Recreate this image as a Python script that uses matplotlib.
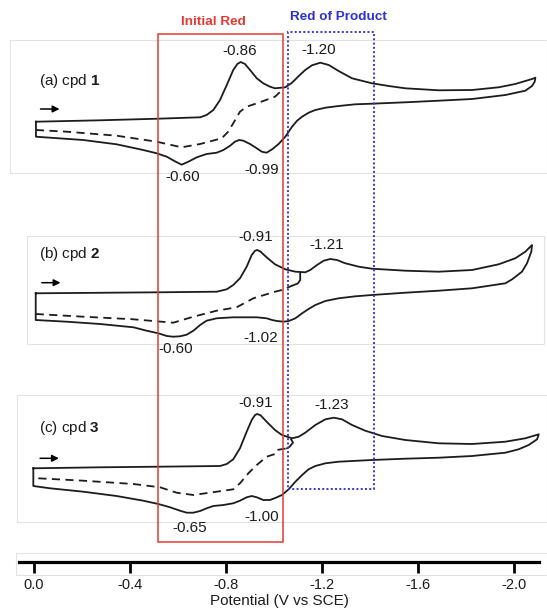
import matplotlib.pyplot as plt
from matplotlib.patches import Rectangle

plt.rcParams['font.family'] = ['Liberation Sans', 'DejaVu Sans']
plt.rcParams['mathtext.fontset'] = 'custom'
plt.rcParams['mathtext.rm'] = 'Liberation Sans'
plt.rcParams['mathtext.bf'] = 'Liberation Sans:bold'

# cyclic voltammograms: potential (V vs SCE), current (arb. units, cathodic up)
# forward scan (towards negative potential), then reverse scan back to the start
a_fwd_E = [-0.009, -0.276, -0.518, -0.693, -0.720, -0.748, -0.776, -0.804, -0.831, -0.848, -0.862,
           -0.880, -0.901, -0.929, -0.956, -0.984, -1.005, -1.048, -1.076, -1.104, -1.131, -1.159,
           -1.194, -1.229, -1.270, -1.326, -1.409, -1.479, -1.548, -1.687, -1.826, -1.937, -2.006,
           -2.048, -2.076, -2.090]
a_fwd_i = [0, 1.4, 3.0, 4.4, 6.7, 11.7, 21.7, 36.7, 51.7, 57.7, 59.7,
           57.7, 51.7, 43.4, 38.4, 35, 33.4, 34.4, 39, 45.7, 51.7, 56.4,
           59, 56.7, 50.7, 43.4, 38.4, 35.7, 33.4, 31.4, 31.7, 34.4, 37.7,
           40.7, 42.7, 44]
a_rev_E = [-2.087, -2.076, -2.048, -1.965, -1.826, -1.687, -1.548, -1.409, -1.340, -1.270, -1.215,
           -1.173, -1.145, -1.118, -1.097, -1.076, -1.048, -1.020, -0.993, -0.970, -0.950, -0.929,
           -0.901, -0.873, -0.856, -0.838, -0.818, -0.790, -0.762, -0.720, -0.679, -0.644, -0.616,
           -0.588, -0.554, -0.512, -0.456, -0.345, -0.206, -0.068, -0.009, -0.009]
a_rev_i = [40, 35.7, 31, 26.7, 22.7, 21, 19.4, 18, 17.4, 15.7, 14,
           11.7, 9, 5, 1, -5, -15, -22.3, -27.6, -31, -30, -26.6,
           -22.3, -19, -18.3, -20, -24, -28.3, -31, -32.3, -35.6, -40, -43,
           -39.6, -35, -31.6, -28.3, -22.6, -18.3, -16, -15, 0]
a_dash_E = [-0.009, -0.137, -0.345, -0.512, -0.616, -0.693, -0.783, -0.810, -0.831, -0.859, -0.887,
            -0.929, -0.956, -1.005, -1.026, -1.030]
a_dash_i = [-8.3, -10, -14, -20, -25.6, -22.3, -16.6, -10, -1.6, 10, 15,
            18.4, 20.7, 25, 29.7, 33.2]

b_fwd_E = [-0.008, -0.519, -0.762, -0.804, -0.831, -0.859, -0.887, -0.908, -0.922, -0.931, -0.945,
           -0.970, -1.005, -1.048, -1.090, -1.131, -1.152, -1.180, -1.208, -1.235, -1.263, -1.298,
           -1.354, -1.409, -1.548, -1.687, -1.826, -1.937, -2.006, -2.048, -2.076]
b_fwd_i = [0, 1, 1.6, 4, 8.3, 15, 26.6, 38.3, 42.6, 43.3, 41.6,
           36, 29, 24, 21.6, 21, 23.3, 28.3, 32.6, 34.3, 33.3, 30,
           26.6, 24.6, 22.6, 21.6, 23.3, 29, 35, 41.6, 48.3]
b_rev_E = [-2.073, -2.055, -2.034, -1.993, -1.965, -1.826, -1.687, -1.548, -1.409, -1.340, -1.270,
           -1.215, -1.173, -1.145, -1.118, -1.090, -1.062, -1.041, -1.013, -0.993, -0.970, -0.929,
           -0.831, -0.762, -0.720, -0.693, -0.665, -0.637, -0.609, -0.581, -0.554, -0.519, -0.470,
           -0.415, -0.276, -0.137, -0.008, -0.008]
b_rev_i = [41.6, 30, 21.6, 14, 10, 5, 2.6, 0.6, -1.7, -3, -5,
           -7.7, -11.7, -15.7, -20, -25, -27.7, -28.4, -27.7, -26.7, -25, -24,
           -24, -25, -27.4, -31.7, -37.4, -41.4, -43, -43.4, -42.7, -40, -37.4,
           -34, -30.7, -28.4, -26.7, 0]
b_dash_E = [-0.008, -0.206, -0.415, -0.581, -0.665, -0.762, -0.845, -0.915, -1.005, -1.034, -1.076]
b_dash_i = [-20.7, -23.4, -26, -29.4, -23.4, -17.4, -14, -5, 1.6, 3.3, 7.6]
b_hook_E = [-1.076, -1.100, -1.110, -1.110]
b_hook_i = [7.6, 9.8, 13.3, 20]

c_fwd_E = [0.002, -0.276, -0.519, -0.776, -0.804, -0.831, -0.859, -0.887, -0.908, -0.922, -0.931,
           -0.945, -0.970, -1.005, -1.034, -1.076, -1.104, -1.131, -1.173, -1.215, -1.250, -1.284,
           -1.326, -1.381, -1.451, -1.548, -1.687, -1.826, -1.965, -2.048, -2.104]
c_fwd_i = [0, 1, 1.6, 2.3, 4.3, 9, 20, 36.6, 48.3, 53.3, 54.3,
           53, 46.6, 38.3, 33.3, 30, 31.6, 35.6, 43.3, 49, 50.6, 49,
           43.3, 37.6, 32.3, 28.3, 25, 24.3, 26.6, 30, 34]
c_rev_E = [-2.097, -2.062, -2.020, -1.965, -1.826, -1.687, -1.548, -1.409, -1.270, -1.215, -1.173,
           -1.145, -1.118, -1.090, -1.062, -1.034, -1.006, -0.984, -0.956, -0.929, -0.908, -0.887,
           -0.859, -0.831, -0.790, -0.748, -0.720, -0.693, -0.665, -0.637, -0.609, -0.568, -0.519,
           -0.456, -0.345, -0.206, -0.068, 0.002, 0.002]
c_rev_i = [29, 23.3, 19, 15.6, 12.3, 10.6, 9.6, 8.3, 6.6, 5, 2.3,
           -1, -6.7, -13.4, -21, -26.7, -29.7, -31.7, -31.7, -29, -27.7, -29,
           -32.4, -35, -36.7, -37.7, -40, -42.7, -44.4, -44.4, -42.4, -39, -35.7,
           -32.4, -27.7, -23.4, -20, -17.7, 0]
c_dash_E = [-0.019, -0.206, -0.415, -0.526, -0.595, -0.665, -0.762, -0.831, -0.859, -0.894, -0.929,
            -0.970, -1.005, -1.013, -1.055]
c_dash_i = [-10, -12.4, -15.7, -19, -24.4, -26.7, -23.4, -21, -15, -5, 3.3,
            11.6, 14.3, 18.3, 20]
c_hook_E = [-1.055, -1.066, -1.080, -1.072]
c_hook_i = [20, 21.6, 25.6, 29]

panel_names = ['(a) cpd $\\mathbf{1}$', '(b) cpd $\\mathbf{2}$', '(c) cpd $\\mathbf{3}$']
peak_labels = [['-0.86', '-1.20', '-0.60', '-0.99'],
               ['-0.91', '-1.21', '-0.60', '-1.02'],
               ['-0.91', '-1.23', '-0.65', '-1.00']]
tick_vals = [0.0, -0.4, -0.8, -1.2, -1.6, -2.0]
tick_labels = ['0.0', '-0.4', '-0.8', '-1.2', '-1.6', '-2.0']

# layout (pixels of the 547x615 picture)
W, H = 547, 615
X0, PX_PER_V = 33.8, 240.0
offsets = [121.7, 293.3, 468.3]
name_pos = [(39.3, 80.7), (39.3, 254.3), (39.3, 427.7)]
arrow_pos = [(37.7, 62.3, 109), (39, 63.3, 282.7), (37.3, 61.7, 458.3)]
peak_pos = [[(240, 50.7), (318.7, 50), (182.7, 176.7), (262, 170.5)],
            [(255.7, 237.3), (327, 245), (176, 349.3), (261, 338.3)],
            [(255.7, 402.7), (332, 405), (190, 528.3), (262, 516.7)]]
frames = [(10, 40, 547, 173.3), (26.7, 236, 543.7, 344), (17.3, 395, 547, 521.7), (15.7, 553.3, 547, 575)]
ink = '#1c1c1c'


def fx(x):
    return x / W


def fy(y):
    return 1 - y / H


def E_of(x):
    return (X0 - x) / PX_PER_V


fig = plt.figure(figsize=(W / 100, H / 100), dpi=100)

# faint frames of the pasted panels
for x1, y1, x2, y2 in frames:
    fig.add_artist(Rectangle((fx(x1), fy(y2)), fx(x2) - fx(x1), fy(y1) - fy(y2),
                             transform=fig.transFigure, fill=False, ec='#e2e2e2', lw=0.8))

ax = fig.add_axes([0, 0, 1, 1])
ax.set_xlim(E_of(0), E_of(W))
ax.set_ylim(H, 0)
ax.axis('off')

curves = [(a_fwd_E + a_rev_E, a_fwd_i + a_rev_i, a_dash_E, a_dash_i, None, None),
          (b_fwd_E + b_rev_E, b_fwd_i + b_rev_i, b_dash_E, b_dash_i, b_hook_E, b_hook_i),
          (c_fwd_E + c_rev_E, c_fwd_i + c_rev_i, c_dash_E, c_dash_i, c_hook_E, c_hook_i)]

for k, (E, i, dE, di, hE, hi) in enumerate(curves):
    off = offsets[k]
    ax.plot(E, [off - v for v in i], color=ink, lw=1.3, solid_joinstyle='round')
    ax.plot(dE, [off - v for v in di], color=ink, lw=1.3, linestyle=(0, (4.5, 3)))
    if hE is not None:
        ax.plot(hE, [off - v for v in hi], color=ink, lw=1.3)

    tx, ty = name_pos[k]
    fig.text(fx(tx), fy(ty), panel_names[k], fontsize=11, color=ink, ha='left', va='center')
    x1, x2, ya = arrow_pos[k]
    ax.annotate('', xy=(fx(x2), fy(ya)), xytext=(fx(x1), fy(ya)), xycoords='figure fraction',
                arrowprops=dict(arrowstyle='-|>', color='black', lw=1.1, mutation_scale=10))
    for lab, (px, py) in zip(peak_labels[k], peak_pos[k]):
        fig.text(fx(px), fy(py), lab, fontsize=11, color=ink, ha='center', va='center')

# highlighted regions
fig.add_artist(Rectangle((fx(158.3), fy(541.7)), fx(282.7) - fx(158.3), fy(34) - fy(541.7),
                         transform=fig.transFigure, fill=False, ec='#e53a33', lw=1.1))
fig.add_artist(Rectangle((fx(288), fy(489.3)), fx(373.7) - fx(288), fy(32.3) - fy(489.3),
                         transform=fig.transFigure, fill=False, ec='#3535e0', lw=1.4, ls=(0, (1, 1.2))))
fig.text(fx(213), fy(22), 'Initial Red', fontsize=9.7, fontweight='bold', color='#e53a33',
         ha='center', va='center')
fig.text(fx(338.7), fy(17.3), 'Red of Product', fontsize=9.7, fontweight='bold', color='#2f2fd6',
         ha='center', va='center')

# potential axis
axb = fig.add_axes([fx(19), fy(562.3), fx(539) - fx(19), 0.01])
axb.set_xlim(E_of(19), E_of(539))
for s in ['top', 'left', 'right']:
    axb.spines[s].set_visible(False)
axb.spines['bottom'].set_linewidth(2.3)
axb.spines['bottom'].set_color('black')
axb.patch.set_visible(False)
axb.set_yticks([])
axb.set_xticks(tick_vals)
axb.set_xticklabels(tick_labels)
axb.tick_params(axis='x', direction='out', length=8, width=2, pad=3, labelsize=10.5, labelcolor=ink)
axb.set_xlabel('Potential (V vs SCE)', fontsize=11, color=ink, labelpad=2)

fig.savefig('out.png', dpi=100)
